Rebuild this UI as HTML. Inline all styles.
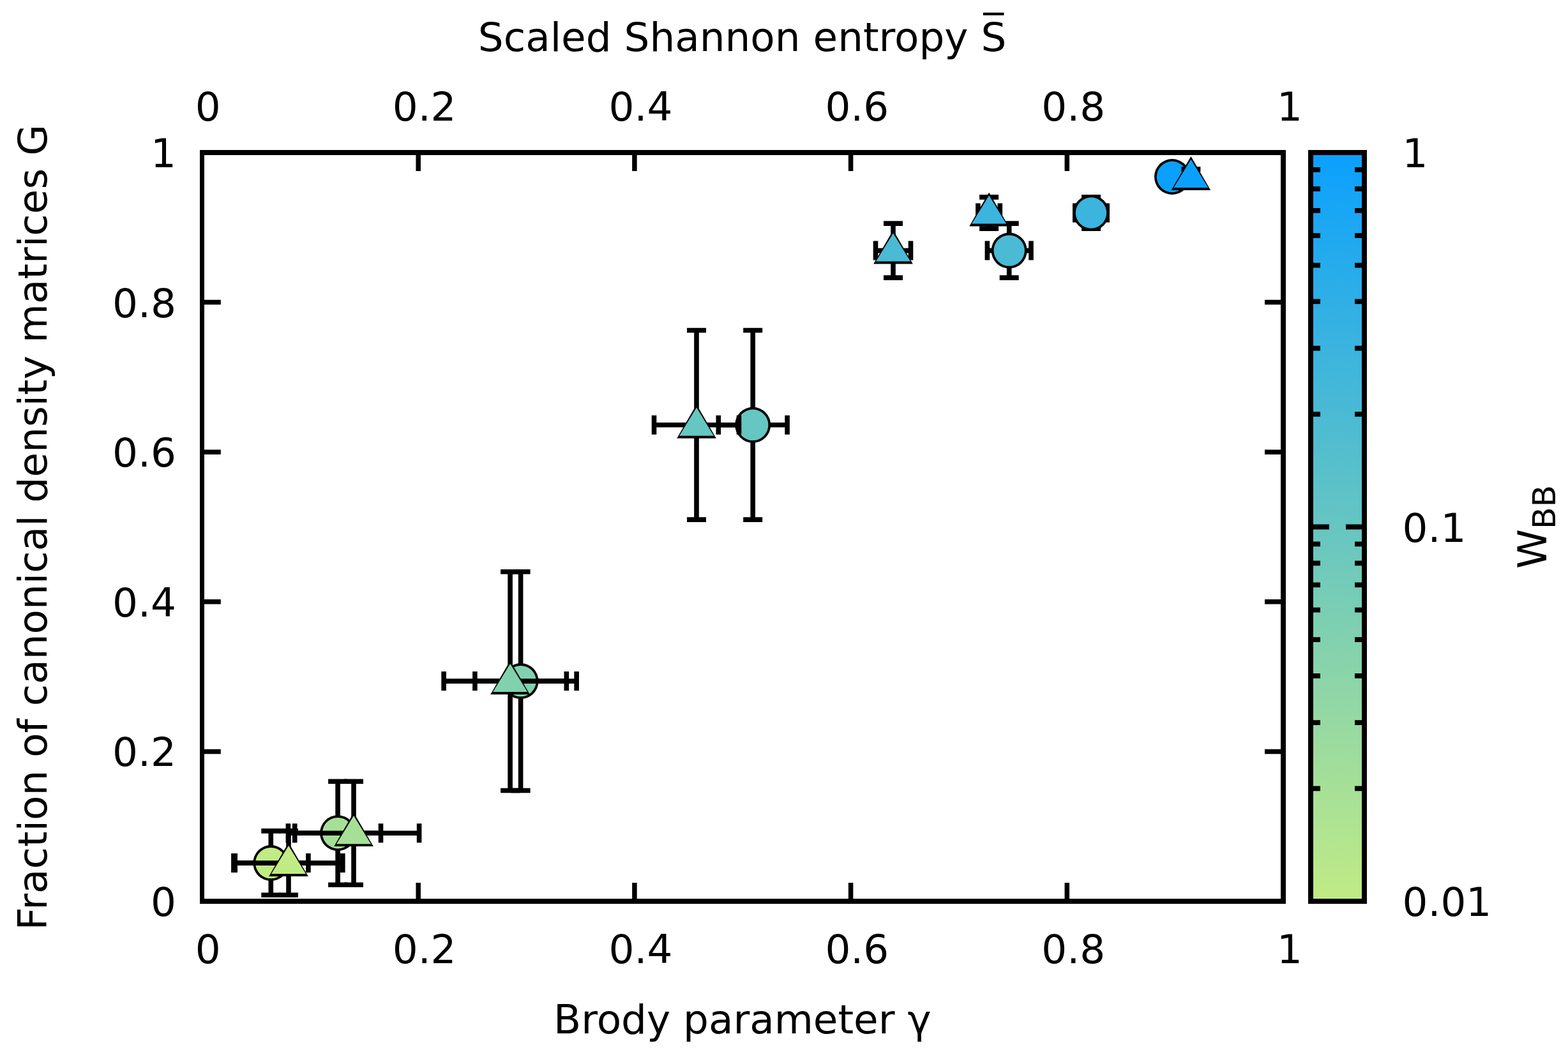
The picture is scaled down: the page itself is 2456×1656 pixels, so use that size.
<!DOCTYPE html>
<html lang="en">
<head>
<meta charset="utf-8">
<title>Fraction of canonical density matrices vs Brody parameter</title>
<style>
html,body{margin:0;padding:0;background:#fff;}
body{width:2456px;height:1656px;overflow:hidden;}
svg{display:block;}
text{font-family:"DejaVu Sans", "Liberation Sans", sans-serif;font-size:62.8px;fill:#000;}
.ln{stroke:#000;stroke-width:7.6;fill:none;stroke-linecap:butt;}
.cb{stroke:#000;stroke-width:8.0;fill:none;stroke-linecap:butt;}
</style>
</head>
<body>
<svg width="2456" height="1656" viewBox="0 0 2456 1656">
<defs>
<linearGradient id="pal" gradientUnits="userSpaceOnUse" x1="0" y1="239.0" x2="0" y2="1412.0">
<stop offset="0" stop-color="rgb(11,160,254)"/>
<stop offset="1" stop-color="rgb(193,235,133)"/>
</linearGradient>
</defs>
<rect x="0" y="0" width="2456" height="1656" fill="#ffffff"/>
<g id="colorbox">
<rect x="2053" y="239" width="84" height="1173" fill="url(#pal)"/>
<path class="cb" style="stroke-width:7.8" d="M2053 825.5h29M2137 825.5h-29M2053 648.95h15M2137 648.95h-15M2053 545.67h15M2137 545.67h-15M2053 472.39h15M2137 472.39h-15M2053 415.55h15M2137 415.55h-15M2053 369.11h15M2137 369.11h-15M2053 329.85h15M2137 329.85h-15M2053 295.84h15M2137 295.84h-15M2053 265.84h15M2137 265.84h-15M2053 1235.45h15M2137 1235.45h-15M2053 1132.17h15M2137 1132.17h-15M2053 1058.89h15M2137 1058.89h-15M2053 1002.05h15M2137 1002.05h-15M2053 955.61h15M2137 955.61h-15M2053 916.35h15M2137 916.35h-15M2053 882.34h15M2137 882.34h-15M2053 852.34h15M2137 852.34h-15"/>
<rect class="cb" x="2053" y="239" width="84" height="1173"/>
</g>
<g id="series-circles">
<path class="ln" d="M424.3 1301.9V1402.3M409.3 1301.9h30M409.3 1402.3h30M365.9 1352.1H482.9M365.9 1337.1v30M482.9 1337.1v30M529.1 1224.2V1386.2M514.1 1224.2h30M514.1 1386.2h30M461.7 1305.2H596.5M461.7 1290.2v30M596.5 1290.2v30M815.6 895.7V1238.5M800.6 895.7h30M800.6 1238.5h30M743.9 1067.1H887.3M743.9 1052.1v30M887.3 1052.1v30M1179.2 517.5V814.1M1164.2 517.5h30M1164.2 814.1h30M1125.3 665.8H1233.1M1125.3 650.8v30M1233.1 650.8v30M1580.7 350.1V435.1M1565.7 350.1h30M1565.7 435.1h30M1546.4 392.6H1615M1546.4 377.6v30M1615 377.6v30M1709 308.9V358.1M1694 308.9h30M1694 358.1h30M1683.8 333.5H1734.2M1683.8 318.5v30M1734.2 318.5v30M1836 265.1V288.9M1821 265.1h30M1821 288.9h30M1830 277H1842M1830 262v30M1842 262v30"/>
<circle cx="424.3" cy="1352.1" r="28" fill="#000"/>
<circle cx="424.3" cy="1352.1" r="24.2" fill="#c1eb85"/>
<circle cx="529.1" cy="1305.2" r="28" fill="#000"/>
<circle cx="529.1" cy="1305.2" r="24.2" fill="#a6e097"/>
<circle cx="815.6" cy="1067.1" r="28" fill="#000"/>
<circle cx="815.6" cy="1067.1" r="24.2" fill="#81d1af"/>
<circle cx="1179.2" cy="665.8" r="28" fill="#000"/>
<circle cx="1179.2" cy="665.8" r="24.2" fill="#66c6c2"/>
<circle cx="1580.7" cy="392.6" r="28" fill="#000"/>
<circle cx="1580.7" cy="392.6" r="24.2" fill="#4bbad4"/>
<circle cx="1709" cy="333.5" r="28" fill="#000"/>
<circle cx="1709" cy="333.5" r="24.2" fill="#3bb4de"/>
<circle cx="1836" cy="277" r="28" fill="#000"/>
<circle cx="1836" cy="277" r="24.2" fill="#0ba0fe"/>
</g>
<g id="series-triangles">
<path class="ln" d="M452 1301.9V1402.3M437 1301.9h30M437 1402.3h30M368.2 1352.1H536.8M368.2 1337.1v30M536.8 1337.1v30M554 1224.2V1386.2M539 1224.2h30M539 1386.2h30M451.4 1305.2H656.6M451.4 1290.2v30M656.6 1290.2v30M799.1 895.7V1238.5M784.1 895.7h30M784.1 1238.5h30M695.1 1067.1H903.1M695.1 1052.1v30M903.1 1052.1v30M1091 517.5V814.1M1076 517.5h30M1076 814.1h30M1024.5 665.8H1157.5M1024.5 650.8v30M1157.5 650.8v30M1399 350.1V435.1M1384 350.1h30M1384 435.1h30M1371.5 392.6H1426.5M1371.5 377.6v30M1426.5 377.6v30M1549.1 308.9V358.1M1534.1 308.9h30M1534.1 358.1h30M1531.9 333.5H1566.3M1531.9 318.5v30M1566.3 318.5v30M1865.4 265.1V288.9M1850.4 265.1h30M1850.4 288.9h30M1859.4 277H1871.4M1859.4 262v30M1871.4 262v30"/>
<polygon points="452,1320 421.2,1373 482.8,1373" fill="#000"/>
<polygon points="452,1324.9 425,1369.1 479,1369.1" fill="#c1eb85"/>
<polygon points="554,1273.1 523.2,1326.1 584.8,1326.1" fill="#000"/>
<polygon points="554,1278 527,1322.2 581,1322.2" fill="#a6e097"/>
<polygon points="799.1,1035 768.3,1088 829.9,1088" fill="#000"/>
<polygon points="799.1,1039.9 772.1,1084.1 826.1,1084.1" fill="#81d1af"/>
<polygon points="1091,633.7 1060.2,686.7 1121.8,686.7" fill="#000"/>
<polygon points="1091,638.6 1064,682.8 1118,682.8" fill="#66c6c2"/>
<polygon points="1399,360.5 1368.2,413.5 1429.8,413.5" fill="#000"/>
<polygon points="1399,365.4 1372,409.6 1426,409.6" fill="#4bbad4"/>
<polygon points="1549.1,301.4 1518.3,354.4 1579.9,354.4" fill="#000"/>
<polygon points="1549.1,306.3 1522.1,350.5 1576.1,350.5" fill="#3bb4de"/>
<polygon points="1865.4,244.9 1834.6,297.9 1896.2,297.9" fill="#000"/>
<polygon points="1865.4,249.8 1838.4,294 1892.4,294" fill="#0ba0fe"/>
</g>
<g id="axes">
<path class="ln" style="stroke-width:7.5" d="M655.2 1412v-29M655.2 239v29M316.5 1177.4h29.3M2010 1177.4h-29M993.9 1412v-29M993.9 239v29M316.5 942.8h29.3M2010 942.8h-29M1332.6 1412v-29M1332.6 239v29M316.5 708.2h29.3M2010 708.2h-29M1671.3 1412v-29M1671.3 239v29M316.5 473.6h29.3M2010 473.6h-29"/>
<rect x="313" y="235" width="7" height="1181" fill="#000"/>
<rect x="2006" y="235" width="8" height="1181" fill="#000"/>
<rect x="313" y="235" width="1701" height="8" fill="#000"/>
<rect x="313" y="1408" width="1701" height="8" fill="#000"/>
</g>
<g id="labels">
<text x="325.8" y="189" text-anchor="middle">0</text>
<text x="664.64" y="189" text-anchor="middle">0.2</text>
<text x="1003.48" y="189" text-anchor="middle">0.4</text>
<text x="1342.32" y="189" text-anchor="middle">0.6</text>
<text x="1681.16" y="189" text-anchor="middle">0.8</text>
<text x="2020" y="189" text-anchor="middle">1</text>
<text x="325.8" y="1509.3" text-anchor="middle">0</text>
<text x="664.64" y="1509.3" text-anchor="middle">0.2</text>
<text x="1003.48" y="1509.3" text-anchor="middle">0.4</text>
<text x="1342.32" y="1509.3" text-anchor="middle">0.6</text>
<text x="1681.16" y="1509.3" text-anchor="middle">0.8</text>
<text x="2020" y="1509.3" text-anchor="middle">1</text>
<text x="275.9" y="1434.9" text-anchor="end">0</text>
<text x="275.9" y="1200.3" text-anchor="end">0.2</text>
<text x="275.9" y="965.7" text-anchor="end">0.4</text>
<text x="275.9" y="731.1" text-anchor="end">0.6</text>
<text x="275.9" y="496.5" text-anchor="end">0.8</text>
<text x="275.9" y="261.9" text-anchor="end">1</text>
<text x="2196.5" y="262.1" text-anchor="start">1</text>
<text x="2196.5" y="848.6" text-anchor="start">0.1</text>
<text x="2196.5" y="1435.1" text-anchor="start">0.01</text>
<text x="748.8" y="80" text-anchor="start">Scaled Shannon entropy S</text>
<text x="1540.6" y="67" text-anchor="start">‾</text>
<text x="1162.9" y="1619.1" text-anchor="middle">Brody parameter γ</text>
<text transform="translate(73 826.3) rotate(-90)" text-anchor="middle">Fraction of canonical density matrices G</text>
<text transform="translate(2422.1 891) rotate(-90)" text-anchor="start">W<tspan dy="14" style="font-size:50.24px">BB</tspan></text>
</g>
</svg>
</body>
</html>
